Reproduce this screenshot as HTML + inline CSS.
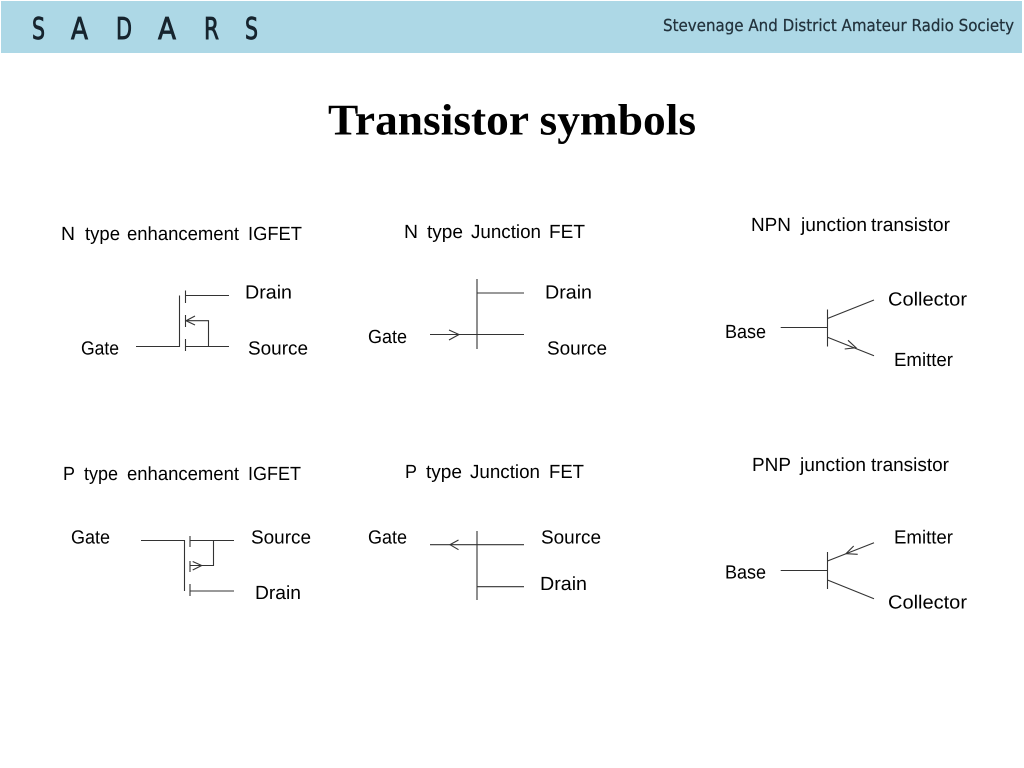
<!DOCTYPE html>
<html>
<head>
<meta charset="utf-8">
<title>Transistor symbols</title>
<style>
html,body{margin:0;padding:0;background:#fff;width:1024px;height:768px;overflow:hidden}
svg{display:block}
text{text-rendering:geometricPrecision}
.l{font-family:"Liberation Sans",Arial,sans-serif;font-size:19px;fill:#000}
.t{font-family:"Liberation Serif","Times New Roman",serif;font-size:44px;font-weight:bold;fill:#000}
.h{font-family:"DejaVu Sans",sans-serif;font-size:30px;fill:#16242e;stroke:#16242e;stroke-width:.9}
.s{font-family:"DejaVu Sans",sans-serif;font-size:16.5px;fill:#22323c;stroke:#22323c;stroke-width:.25}
.w{stroke:#333;stroke-width:1.1;fill:none}
</style>
</head>
<body>
<svg width="1024" height="768" viewBox="0 0 1024 768" xmlns="http://www.w3.org/2000/svg">
<rect x="1" y="1" width="1021" height="52" fill="#add8e6"/>
<g class="h">
<text x="32" y="39" textLength="13" lengthAdjust="spacingAndGlyphs">S</text>
<text x="71" y="39" textLength="17" lengthAdjust="spacingAndGlyphs">A</text>
<text x="116" y="39" textLength="16" lengthAdjust="spacingAndGlyphs">D</text>
<text x="158" y="39" textLength="18" lengthAdjust="spacingAndGlyphs">A</text>
<text x="204" y="39" textLength="15" lengthAdjust="spacingAndGlyphs">R</text>
<text x="245" y="39" textLength="13" lengthAdjust="spacingAndGlyphs">S</text>
</g>
<text class="s" x="663" y="31" textLength="351" lengthAdjust="spacingAndGlyphs">Stevenage And District Amateur Radio Society</text>
<text class="t" x="328" y="134.5" textLength="368" lengthAdjust="spacingAndGlyphs">Transistor symbols</text>

<g class="l">
<text x="61" y="240" textLength="14" lengthAdjust="spacingAndGlyphs">N</text><text x="85" y="240" textLength="35" lengthAdjust="spacingAndGlyphs">type</text><text x="127" y="240" textLength="112" lengthAdjust="spacingAndGlyphs">enhancement</text><text x="248" y="240" textLength="54" lengthAdjust="spacingAndGlyphs">IGFET</text>
<text x="404" y="238" textLength="14" lengthAdjust="spacingAndGlyphs">N</text><text x="427" y="238" textLength="36" lengthAdjust="spacingAndGlyphs">type</text><text x="471" y="238" textLength="70" lengthAdjust="spacingAndGlyphs">Junction</text><text x="549" y="238" textLength="36" lengthAdjust="spacingAndGlyphs">FET</text>
<text x="751" y="231" textLength="40" lengthAdjust="spacingAndGlyphs">NPN</text><text x="801" y="231" textLength="66" lengthAdjust="spacingAndGlyphs">junction</text><text x="871" y="231" textLength="79" lengthAdjust="spacingAndGlyphs">transistor</text>
<text x="63" y="480" textLength="12" lengthAdjust="spacingAndGlyphs">P</text><text x="84" y="480" textLength="34" lengthAdjust="spacingAndGlyphs">type</text><text x="127" y="480" textLength="112" lengthAdjust="spacingAndGlyphs">enhancement</text><text x="248" y="480" textLength="53" lengthAdjust="spacingAndGlyphs">IGFET</text>
<text x="405" y="478" textLength="12" lengthAdjust="spacingAndGlyphs">P</text><text x="426" y="478" textLength="36" lengthAdjust="spacingAndGlyphs">type</text><text x="470" y="478" textLength="70" lengthAdjust="spacingAndGlyphs">Junction</text><text x="549" y="478" textLength="35" lengthAdjust="spacingAndGlyphs">FET</text>
<text x="752" y="471" textLength="39" lengthAdjust="spacingAndGlyphs">PNP</text><text x="800" y="471" textLength="66" lengthAdjust="spacingAndGlyphs">junction</text><text x="871" y="471" textLength="78" lengthAdjust="spacingAndGlyphs">transistor</text>

<text x="245" y="298.5" textLength="47" lengthAdjust="spacingAndGlyphs">Drain</text>
<text x="81" y="354.5" textLength="38" lengthAdjust="spacingAndGlyphs">Gate</text>
<text x="248" y="354.5" textLength="60" lengthAdjust="spacingAndGlyphs">Source</text>
<text x="545" y="298.5" textLength="47" lengthAdjust="spacingAndGlyphs">Drain</text>
<text x="368" y="343" textLength="39" lengthAdjust="spacingAndGlyphs">Gate</text>
<text x="547" y="354.5" textLength="60" lengthAdjust="spacingAndGlyphs">Source</text>
<text x="888" y="305.5" textLength="79" lengthAdjust="spacingAndGlyphs">Collector</text>
<text x="725" y="338" textLength="41" lengthAdjust="spacingAndGlyphs">Base</text>
<text x="894" y="366" textLength="59" lengthAdjust="spacingAndGlyphs">Emitter</text>
<text x="71" y="543.5" textLength="39" lengthAdjust="spacingAndGlyphs">Gate</text>
<text x="251" y="543.5" textLength="60" lengthAdjust="spacingAndGlyphs">Source</text>
<text x="255" y="599" textLength="46" lengthAdjust="spacingAndGlyphs">Drain</text>
<text x="368" y="543.5" textLength="39" lengthAdjust="spacingAndGlyphs">Gate</text>
<text x="541" y="543.5" textLength="60" lengthAdjust="spacingAndGlyphs">Source</text>
<text x="540" y="590" textLength="47" lengthAdjust="spacingAndGlyphs">Drain</text>
<text x="894" y="543.5" textLength="59" lengthAdjust="spacingAndGlyphs">Emitter</text>
<text x="725" y="578.5" textLength="41" lengthAdjust="spacingAndGlyphs">Base</text>
<text x="888" y="608.5" textLength="79" lengthAdjust="spacingAndGlyphs">Collector</text>
</g>

<g class="w">
<!-- N IGFET -->
<path d="M136 346.5H179.5V295.5"/>
<path d="M185.5 290.5V303M185.5 315V327M185.5 339V351"/>
<path d="M186 295.5H229M186 346.5H229M186 320.7H208.5V346.5"/>
<path d="M195 316L186 320.7L195 325"/>
<!-- P IGFET -->
<path d="M141 540.5H184.5V591"/>
<path d="M190 536V547M190 561V572M190 584V596"/>
<path d="M190 540.5H234M190 591H234M190 565.5H213.5V540.5"/>
<path d="M192.7 561.5L201.7 565.5L192.7 570"/>
<!-- N JFET -->
<path d="M477 279V349M477 293H524M430 334.5H524"/>
<path d="M449 330L459 334.5L449 340"/>
<!-- P JFET -->
<path d="M477 531V600M477 586.7H524M430 544.7H524"/>
<path d="M458.5 540L450 544.7L458.5 549.7"/>
<!-- NPN -->
<path d="M780.7 327.5H827.5M827.5 309.5V346.5M827.5 318.5L874 300M827.5 337.3L874 355.7"/>
<path d="M848 340.3L856 347.7L844.7 349"/>
<!-- PNP -->
<path d="M780.7 570.5H827.5M827.5 552V589M827.5 561L874 542.7M827.5 580L874 598.7"/>
<path d="M853.7 546L846 553.7L857.7 554.3"/>
</g>
</svg>
</body>
</html>
